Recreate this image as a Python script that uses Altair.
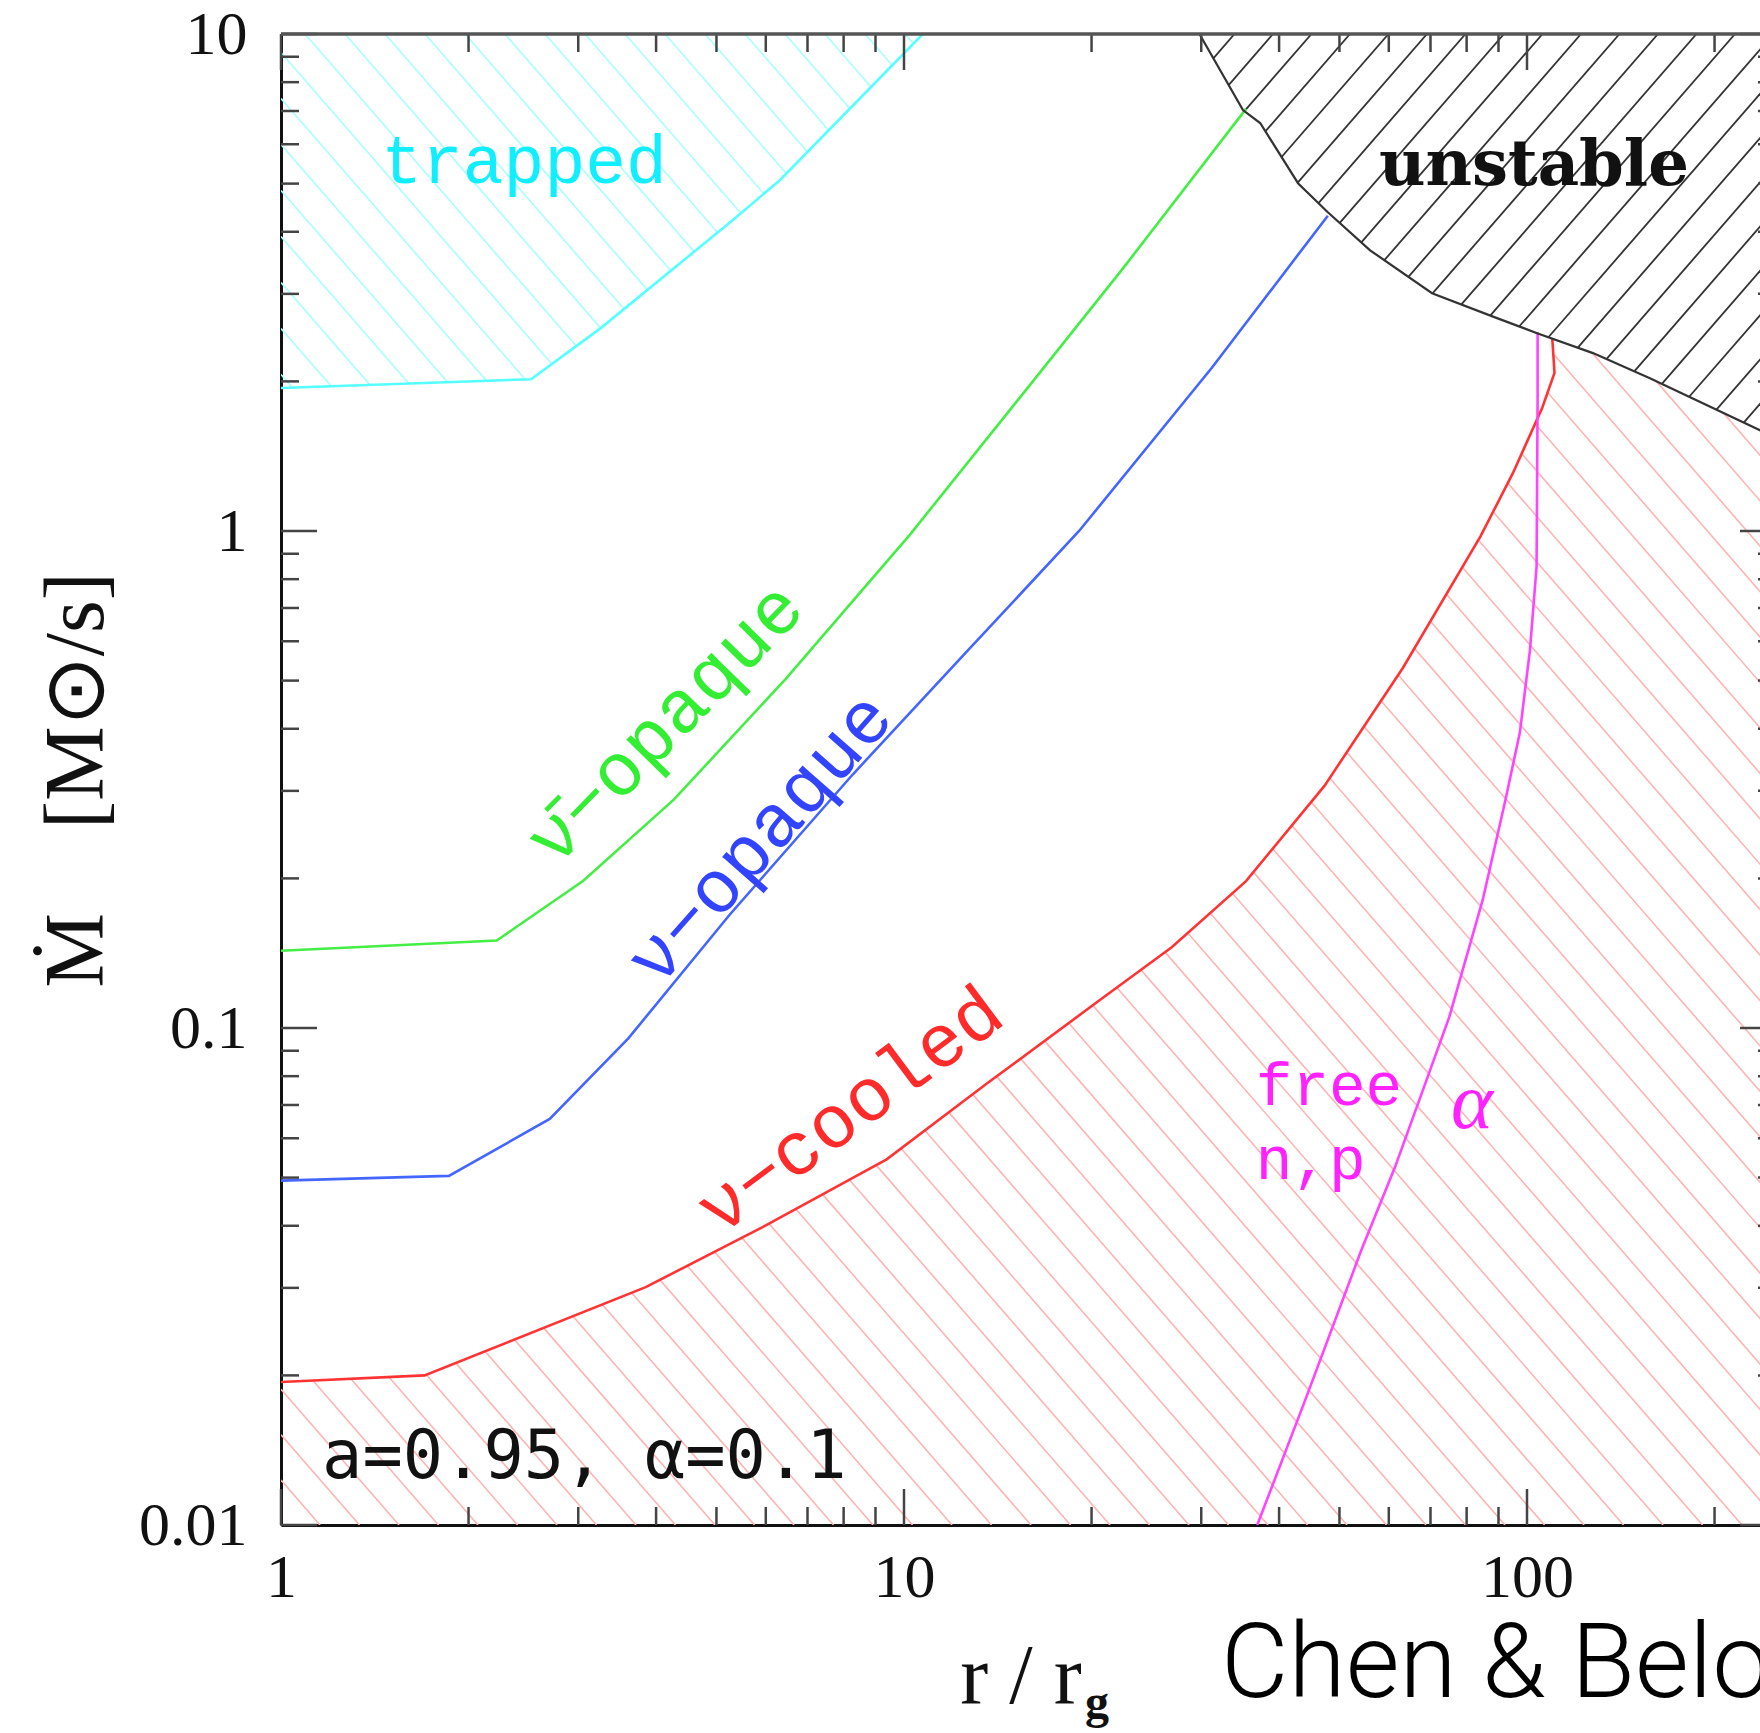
import numpy as np
import pandas as pd
import altair as alt

# ---------------- values ----------------
x_major = [1, 10, 100]
x_minor = [2, 3, 4, 5, 6, 7, 8, 9, 20, 30, 40, 50, 60, 70, 80, 90, 200]
y_major = [0.01, 0.1, 1, 10]
y_minor = [0.02, 0.03, 0.04, 0.05, 0.06, 0.07, 0.08, 0.09,
           0.2, 0.3, 0.4, 0.5, 0.6, 0.7, 0.8, 0.9,
           2, 3, 4, 5, 6, 7, 8, 9]

# neutrino-trapped boundary (cyan)
trapped_r = [1.0, 2.52, 3.26, 5.32, 6.32, 10.72]
trapped_m = [1.94, 2.02, 2.56, 4.23, 5.08, 10.0]

# anti-neutrino opaque (green)
nubar_r = [1.0, 2.22, 3.06, 4.27, 6.46, 10.2, 16.1, 22.4, 35.4]
nubar_m = [0.143, 0.150, 0.198, 0.288, 0.504, 0.98, 2.0, 3.36, 7.07]

# neutrino opaque (blue)
nu_r = [1.0, 1.86, 2.70, 3.61, 5.25, 8.28, 12.5, 19.1, 31.2, 47.9]
nu_m = [0.0493, 0.0504, 0.0656, 0.0953, 0.169, 0.324, 0.565, 1.0, 2.13, 4.31]

# neutrino cooled (red)
cooled_r = [1.0, 1.70, 3.85, 5.94, 9.38, 13.6, 20.6, 26.9, 35.4, 47.3,
            63.2, 84.2, 95.0, 105.8, 110.7, 109.8]
cooled_m = [0.0194, 0.0200, 0.0301, 0.0398, 0.0544, 0.0774, 0.1137, 0.1454,
            0.1975, 0.307, 0.53, 0.975, 1.31, 1.77, 2.08, 2.44]

# free n,p / alpha transition (magenta)
alpha_r = [104.0, 104.0, 103.6, 101.1, 97.4, 92.3, 84.9, 75.0, 68.4, 61.4,
           54.2, 44.1, 36.9]
alpha_m = [2.51, 1.84, 0.847, 0.576, 0.393, 0.287, 0.181, 0.105, 0.0763,
           0.0525, 0.0357, 0.0179, 0.01]

# unstable region boundary (black)
unstable_r = [29.8, 35.0, 37.3, 42.9, 47.8, 56.0, 70.4, 88.2, 103.8, 127.6,
              157.5, 251.0]
unstable_m = [10.0, 7.03, 6.62, 5.01, 4.39, 3.67, 3.01, 2.70, 2.50, 2.28,
              2.03, 1.54]

# annotation anchors (r, Mdot)
label_text = ["trapped", "unstable", "free", "n,p",
              "\u03bd\u0304\u2212opaque", "\u03bd\u2212opaque", "\u03bd\u2212cooled"]
label_r = [2.455, 102.6, 36.7, 36.7, 4.135, 5.873, 8.19]
label_m = [5.01, 4.97, 0.0700, 0.0497, 0.409, 0.240, 0.0681]

# ---------------- layout ----------------
W, H = 1479, 1491
DECADE_PX = 623.0
X_MIN, X_MAX = 1.0, 10 ** (W / DECADE_PX)
Y_MIN, Y_MAX = 0.01, 10.0
LX = np.log10(X_MAX / X_MIN)
LY = np.log10(Y_MAX / Y_MIN)

SERIF = "Liberation Serif"
MONO = "Liberation Mono"
NB = "\u00a0"

XS = alt.Scale(type="log", domain=[X_MIN, X_MAX], nice=False)
YS = alt.Scale(type="log", domain=[Y_MIN, Y_MAX], nice=False)

XAX = alt.Axis(values=x_major, format="~g", title="r / r", grid=False,
               ticks=False, domain=True, domainColor="#111", domainWidth=3,
               labelFont=SERIF, labelFontSize=62, labelColor="#111",
               labelPadding=22, labelFlush=False, labelOverlap=False,
               titleFont=SERIF, titleFontSize=84, titleFontWeight="normal",
               titleColor="#111", titlePadding=28)
YAX = alt.Axis(values=y_major, format="~g",
               title="\u1e40" + NB * 4 + "[M\u2299/s]",
               grid=False, ticks=False, domain=True, domainColor="#111",
               domainWidth=3, labelFont=SERIF, labelFontSize=62,
               labelColor="#111", labelPadding=34, labelOverlap=False,
               titleFont=SERIF, titleFontSize=84, titleFontWeight="normal",
               titleColor="#111", titlePadding=18)


def X(f):
    return alt.X(f, type="quantitative", scale=XS, axis=XAX)


def Y(f):
    return alt.Y(f, type="quantitative", scale=YS, axis=YAX)


def to_px(x, y):
    x = np.asarray(x, float)
    y = np.asarray(y, float)
    return W * np.log10(x / X_MIN) / LX, H * (1 - np.log10(y / Y_MIN) / LY)


def from_px(px, py):
    return X_MIN * 10 ** (px * LX / W), Y_MIN * 10 ** ((1 - py / H) * LY)


def hatch(rs, ms, angle, gap, through):
    px, py = to_px(rs, ms)
    P = np.column_stack([px, py])
    Q = np.roll(P, -1, axis=0)
    t = np.radians(angle)
    d = np.array([np.cos(t), np.sin(t)])
    n = np.array([-d[1], d[0]])
    step = gap * abs(n[0])
    c0 = float(np.dot(n, through))
    cp = P @ n
    k0 = int(np.ceil((cp.min() - c0) / step))
    k1 = int(np.floor((cp.max() - c0) / step))
    rows = []
    for k in range(k0, k1 + 1):
        c = c0 + k * step
        fa = P @ n - c
        fb = Q @ n - c
        cross = (fa > 0) != (fb > 0)
        if not cross.any():
            continue
        tt = fa[cross] / (fa[cross] - fb[cross])
        pts = P[cross] + tt[:, None] * (Q[cross] - P[cross])
        s = np.sort(pts @ d)
        for a, b in zip(s[0::2], s[1::2]):
            p1 = c * n + a * d
            p2 = c * n + b * d
            x1, y1 = from_px(p1[0], p1[1])
            x2, y2 = from_px(p2[0], p2[1])
            rows.append({"r": x1, "m": y1, "r2": x2, "m2": y2})
    return pd.DataFrame(rows)


def hatch_layer(df, color, width):
    return alt.Chart(df).mark_rule(color=color, strokeWidth=width, clip=True).encode(
        x=X("r"), y=Y("m"), x2="r2:Q", y2="m2:Q")


def curve(rs, ms, color, width=2.6):
    df = pd.DataFrame({"r": rs, "m": ms, "i": list(range(len(rs)))})
    return alt.Chart(df).mark_line(color=color, strokeWidth=width, clip=True).encode(
        x=X("r"), y=Y("m"), order="i:Q")


def label(i, color, size, font, angle=0, align="center", baseline="alphabetic",
          weight="normal", style="normal"):
    df = pd.DataFrame({"r": [label_r[i]], "m": [label_m[i]], "t": [label_text[i]]})
    return alt.Chart(df).mark_text(color=color, fontSize=size, font=font, angle=angle,
                                   align=align, baseline=baseline, fontWeight=weight,
                                   fontStyle=style).encode(x=X("r"), y=Y("m"), text="t:N")


# hatched regions
cyan_df = hatch(trapped_r + [X_MIN], trapped_m + [Y_MAX], 49, 40.0, (24.0, 0.0))
black_df = hatch(unstable_r + [unstable_r[-1]], unstable_m + [Y_MAX], -49, 38.5, (992.0, 0.0))
tail = [(r, m) for r, m in zip(unstable_r, unstable_m) if r > cooled_r[-1]]
red_poly_r = cooled_r + [r for r, _ in tail] + [unstable_r[-1], X_MIN]
red_poly_m = cooled_m + [m for _, m in tail] + [Y_MIN, Y_MIN]
red_df = hatch(red_poly_r, red_poly_m, 49, 39.5, (39.0, float(H)))

layers = [
    hatch_layer(cyan_df, "#a8ffff", 1.6),
    hatch_layer(red_df, "#ffb4b4", 1.6),
    hatch_layer(black_df, "#333333", 1.8),
    curve(trapped_r, trapped_m, "#55ffff"),
    curve(nubar_r, nubar_m, "#44ee44"),
    curve(nu_r, nu_m, "#4466ff"),
    curve(cooled_r, cooled_m, "#ff3333"),
    curve(alpha_r, alpha_m, "#ff44ff"),
    curve(unstable_r, unstable_m, "#333333", 2.2),
    label(0, "#11eeff", 68, MONO),
    label(1, "#111111", 64, "DejaVu Serif", weight="bold"),
    label(2, "#ff22ff", 61, MONO, align="left"),
    label(3, "#ff22ff", 61, MONO, align="left"),
    label(4, "#33ee33", 75, MONO, angle=314.4, baseline="middle"),
    label(5, "#3344ff", 75, MONO, angle=311.4, baseline="middle"),
    label(6, "#ff2a2a", 75, MONO, angle=323.3, baseline="middle"),
]

# alpha label and parameter text
alpha_lab = pd.DataFrame({"r": [81.6], "m": [0.0629], "t": ["\u03b1"]})
layers.append(alt.Chart(alpha_lab).mark_text(color="#ff22ff", fontSize=80, font=SERIF,
                                             fontStyle="italic", align="center",
                                             baseline="alphabetic").encode(
    x=X("r"), y=Y("m"), text="t:N"))
param_lab = pd.DataFrame({"r": [1.164], "m": [0.01243], "t": ["a=0.95, \u03b1=0.1"]})
layers.append(alt.Chart(param_lab).mark_text(color="#111111", fontSize=67,
                                             font="DejaVu Sans Mono", align="left",
                                             baseline="alphabetic").encode(
    x=X("r"), y=Y("m"), text="t:N"))

# ticks (inward) on all four sides
TICK = "#444444"
MAJ, MIN = 36, 18


def vals(v):
    return pd.DataFrame({"v": v})


for v, ln in ((y_major, MAJ), (y_minor, MIN)):
    layers.append(alt.Chart(vals(v)).mark_rule(color=TICK, strokeWidth=2.5).encode(
        y=Y("v"), x=alt.value(0), x2=alt.value(ln)))
    layers.append(alt.Chart(vals(v)).mark_rule(color=TICK, strokeWidth=2.5).encode(
        y=Y("v"), x=alt.value(W - (ln - 16)), x2=alt.value(W)))
for v, ln in ((x_major, MAJ), (x_minor, MIN)):
    layers.append(alt.Chart(vals(v)).mark_rule(color=TICK, strokeWidth=2.5).encode(
        x=X("v"), y=alt.value(H), y2=alt.value(H - ln)))
    layers.append(alt.Chart(vals(v)).mark_rule(color=TICK, strokeWidth=2.5).encode(
        x=X("v"), y=alt.value(0), y2=alt.value(ln)))

# top frame line
layers.append(alt.Chart(vals([1])).mark_rule(color="#555555", strokeWidth=3.5).encode(
    x=alt.value(0), x2=alt.value(W), y=alt.value(0)))

# subscript g of the x title and the caption
layers.append(alt.Chart(vals([1])).mark_text(text="g", font=SERIF, fontSize=48,
                                             fontWeight="bold", color="#111",
                                             align="left", baseline="alphabetic").encode(
    x=alt.value(804), y=alt.value(1684)))
layers.append(alt.Chart(vals([1])).mark_text(text="Chen & Beloborodov", font="Roboto",
                                             fontSize=104, fontWeight=300, color="#000",
                                             align="left", baseline="alphabetic").encode(
    x=alt.value(940), y=alt.value(1663)))

chart = alt.layer(*layers).properties(
    width=W, height=H,
    autosize=alt.AutoSizeParams(type="none"),
    padding={"left": 281, "top": 34, "right": 0, "bottom": 208},
    background="white",
).configure_view(stroke=None)

chart.save("out.html", embed_options={"renderer": "svg", "actions": False})
